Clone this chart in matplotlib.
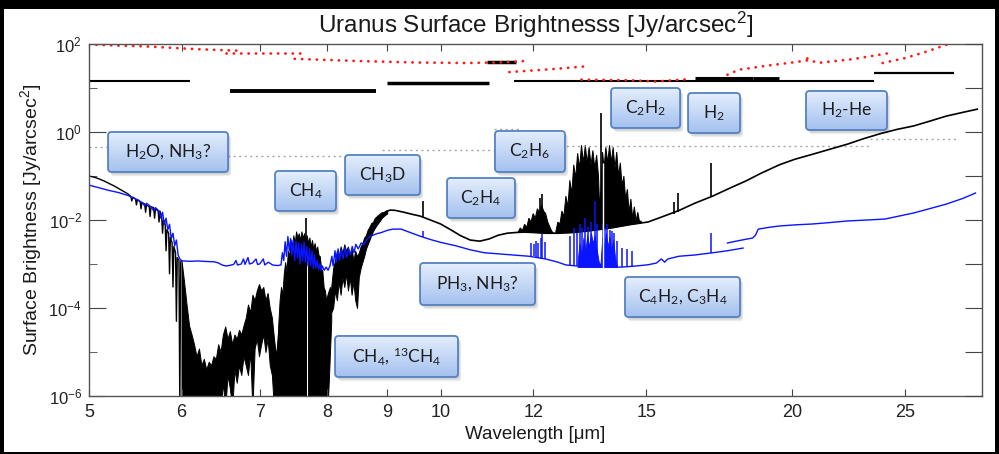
import numpy as np
import matplotlib
matplotlib.use('Agg')
import matplotlib.pyplot as plt
from matplotlib.patches import FancyBboxPatch, Rectangle
from matplotlib.colors import LinearSegmentedColormap
from matplotlib.ticker import FixedLocator, NullLocator, NullFormatter

plt.rcParams['font.family'] = ['Liberation Sans', 'DejaVu Sans']
plt.rcParams['mathtext.default'] = 'regular'

# ---------------- data (wavelength in um, brightness in Jy/arcsec^2) ----------------
# black spectrum, 5-6 um (continuum falling into the 6 um absorption)
bk1_lam = [5.00, 5.05, 5.10, 5.15, 5.20, 5.25, 5.30, 5.35, 5.40, 5.43, 5.44, 5.45, 5.48, 5.49,
           5.50, 5.53, 5.54, 5.55, 5.58, 5.59, 5.60, 5.63, 5.64, 5.65, 5.68, 5.69, 5.70, 5.73,
           5.74, 5.75, 5.77, 5.78, 5.79, 5.81, 5.82, 5.83, 5.85, 5.86, 5.87, 5.89, 5.90, 5.91,
           5.93, 5.94, 5.95, 5.97, 5.98, 5.99, 6.00]
bk1_val = [0.100, 0.094, 0.086, 0.077, 0.068, 0.060, 0.052, 0.045, 0.039, 0.034, 0.027, 0.033,
           0.030, 0.022, 0.029, 0.026, 0.018, 0.025, 0.023, 0.015, 0.022, 0.020, 0.012, 0.020,
           0.019, 0.011, 0.018, 0.016, 0.009, 0.016, 0.012, 0.005, 0.010, 0.008, 0.002, 0.006,
           0.005, 0.0006, 0.004, 0.003, 0.0003, 0.0025, 0.0018, 5e-5, 0.0014, 0.0012, 5e-7,
           0.0011, 0.0012]

# black, 6-7.25 um (dense absorption, upper / lower envelope)
n2_lam = [6.00, 6.03, 6.06, 6.09, 6.12, 6.15, 6.18, 6.21, 6.24, 6.27, 6.30, 6.33, 6.36, 6.39,
          6.42, 6.45, 6.48, 6.51, 6.54, 6.57, 6.60, 6.63, 6.66, 6.69, 6.72, 6.75, 6.78, 6.81,
          6.84, 6.87, 6.90, 6.93, 6.96, 6.99, 7.02, 7.05, 7.08, 7.11, 7.14, 7.17, 7.20, 7.23, 7.26]
n2_hi = [1.2e-3, 4e-4, 1.2e-4, 4e-5, 2.5e-5, 1.5e-5, 8e-6, 1.2e-5, 5e-6, 7e-6, 4e-6, 6e-6, 5e-6,
         8e-6, 7e-6, 1.5e-5, 1e-5, 2.5e-5, 3.8e-5, 2e-5, 3e-5, 1.5e-5, 2.5e-5, 2e-5, 3.2e-5,
         2.5e-5, 4e-5, 6e-5, 1.2e-4, 8e-5, 2e-4, 1.5e-4, 2.5e-4, 3.5e-4, 2.5e-4, 3e-4, 1.5e-4,
         2.2e-4, 1e-4, 6e-5, 2e-5, 8e-6, 3e-5]
n2_lo = [5e-7, 5e-7, 5e-7, 5e-7, 5e-7, 5e-7, 5e-7, 5e-7, 5e-7, 5e-7, 5e-7, 5e-7, 5e-7, 5e-7,
         5e-7, 5e-7, 5e-7, 2e-6, 5e-7, 3e-6, 1.5e-6, 5e-7, 4e-6, 2e-6, 5e-6, 3e-6, 8e-6, 5e-6,
         3e-6, 1e-5, 5e-7, 1.2e-5, 2e-5, 8e-6, 1.5e-5, 2.5e-5, 1e-5, 2e-5, 5e-6, 3e-6, 5e-7,
         5e-7, 5e-7]

# black, CH4 band 7.24-8.06 um
n3_lam = [7.24, 7.26, 7.28, 7.30, 7.32, 7.34, 7.36, 7.38, 7.40, 7.42, 7.44, 7.46, 7.48, 7.50,
          7.52, 7.54, 7.56, 7.58, 7.60, 7.62, 7.64, 7.66, 7.68, 7.70, 7.72, 7.74, 7.76, 7.78,
          7.80, 7.82, 7.84, 7.86, 7.88, 7.90, 7.92, 7.94, 7.96, 7.98, 8.00, 8.02, 8.04, 8.06]
n3_hi = [5e-6, 4e-5, 1.5e-4, 3e-4, 2e-4, 6e-4, 1.1e-3, 7e-4, 2e-3, 1.5e-3, 3.5e-3, 2.5e-3,
         4.5e-3, 3e-3, 5.5e-3, 4e-3, 5e-3, 3.5e-3, 5.5e-3, 4e-3, 5e-3, 3.5e-3, 4.5e-3, 3e-3,
         4e-3, 2.5e-3, 3.5e-3, 2.2e-3, 3e-3, 2e-3, 2.5e-3, 1.6e-3, 1.5e-3, 8e-4, 7e-4, 3e-4,
         2.5e-4, 1.5e-4, 2e-4, 2.5e-4, 3e-4, 2.5e-4]
n3_lo = [5e-7, 5e-7, 5e-7, 5e-7, 5e-7, 5e-7, 5e-7, 5e-7, 5e-7, 5e-7, 5e-7, 5e-7, 5e-7, 5e-7,
         5e-7, 5e-7, 5e-7, 5e-7, 5e-7, 5e-7, 5e-7, 5e-7, 5e-7, 5e-7, 5e-7, 5e-7, 5e-7, 5e-7,
         5e-7, 5e-7, 5e-7, 5e-7, 5e-7, 5e-7, 5e-7, 5e-7, 5e-7, 5e-7, 5e-7, 2e-6, 1e-5, 5e-5]

# black, 8.06-9.0 um
n4_lam = [8.06, 8.09, 8.12, 8.15, 8.18, 8.21, 8.24, 8.27, 8.30, 8.33, 8.36, 8.39, 8.42, 8.45,
          8.48, 8.51, 8.54, 8.57, 8.60, 8.63, 8.66, 8.69, 8.72, 8.75, 8.78, 8.81, 8.84, 8.87,
          8.90, 8.93, 8.96, 9.00]
n4_hi = [3e-4, 8e-4, 1.2e-3, 2e-3, 1.5e-3, 2.5e-3, 1.8e-3, 2.8e-3, 2e-3, 2.5e-3, 1.5e-3, 2.2e-3,
         1.2e-3, 2e-3, 1.5e-3, 1.8e-3, 2.5e-3, 3e-3, 4e-3, 4.5e-3, 6e-3, 7e-3, 8.5e-3, 9e-3,
         0.011, 0.012, 0.013, 0.014, 0.015, 0.015, 0.016, 0.0165]
n4_lo = [8e-5, 1e-4, 2.5e-4, 1.5e-4, 4e-4, 2e-4, 5e-4, 3e-4, 6e-4, 2.5e-4, 5e-4, 2e-4, 4e-4,
         1.5e-4, 1e-4, 5e-4, 8e-4, 1.1e-3, 1.5e-3, 2.2e-3, 2.8e-3, 3.5e-3, 4.5e-3, 5.5e-3,
         6.5e-3, 7.5e-3, 8.5e-3, 9.5e-3, 0.011, 0.012, 0.013, 0.014]

# black continuum 9-29 um
bk2_lam = [9.00, 9.06, 9.15, 9.30, 9.45, 9.60, 9.80, 10.0, 10.2, 10.4, 10.6, 10.8, 11.0, 11.2,
           11.4, 11.6, 11.8, 12.0, 12.3, 12.6, 13.0, 13.5, 14.0, 14.5, 15.05, 15.5, 16.0, 16.5,
           17.1, 17.6, 18.25, 18.8, 19.5, 20.1, 20.8, 21.5, 22.3, 23.0, 23.8, 24.6, 25.4, 26.2,
           27.1, 28.0, 28.8]
bk2_val = [0.0160, 0.0168, 0.0165, 0.0150, 0.0135, 0.0123, 0.0100, 0.0081, 0.0060, 0.0044,
           0.0035, 0.0033, 0.0037, 0.0045, 0.0050, 0.0052, 0.0053, 0.0052, 0.0050, 0.0050,
           0.0052, 0.0058, 0.0066, 0.0078, 0.0090, 0.0120, 0.0165, 0.024, 0.035, 0.050, 0.077,
           0.115, 0.180, 0.24, 0.31, 0.40, 0.53, 0.70, 0.92, 1.15, 1.37, 1.75, 2.3, 2.8, 3.3]

# C2H6 emission band
c2h6_lam = [11.65, 11.70, 11.75, 11.80, 11.85, 11.90, 11.95, 12.00, 12.05, 12.10, 12.15, 12.20,
            12.25, 12.30, 12.35, 12.40, 12.45, 12.50]
c2h6_hi = [0.0053, 0.0066, 0.0058, 0.0080, 0.0068, 0.0110, 0.0090, 0.0140, 0.0110, 0.0180,
           0.0150, 0.0220, 0.0160, 0.0140, 0.0090, 0.0070, 0.0055, 0.0050]
c2h6_base_lam = [11.65, 12.0, 12.5]
c2h6_base_val = [0.0052, 0.0052, 0.0050]

# C2H2 emission band
c2h2_lam = [12.55, 12.60, 12.65, 12.70, 12.75, 12.80, 12.85, 12.90, 12.95, 13.00, 13.05, 13.10,
            13.15, 13.20, 13.25, 13.30, 13.35, 13.40, 13.45, 13.50, 13.55, 13.60, 13.65, 13.68,
            13.72, 13.76, 13.80, 13.85, 13.90, 13.95, 14.00, 14.05, 14.10, 14.15, 14.20, 14.25,
            14.30, 14.35, 14.40, 14.45, 14.50, 14.55, 14.60, 14.65, 14.70, 14.75, 14.80, 14.85]
c2h2_hi = [0.0055, 0.009, 0.008, 0.016, 0.012, 0.035, 0.020, 0.080, 0.040, 0.18, 0.09, 0.33,
           0.15, 0.50, 0.20, 0.50, 0.20, 0.45, 0.18, 0.38, 0.15, 0.30, 0.10, 0.02,
           0.05, 0.35, 0.15, 0.45, 0.20, 0.50, 0.20, 0.45, 0.15, 0.35, 0.10, 0.20,
           0.06, 0.10, 0.03, 0.05, 0.015, 0.03, 0.011, 0.02, 0.0095, 0.015, 0.0092, 0.0095]
c2h2_base_lam = [12.55, 13.0, 13.5, 14.0, 14.5, 14.85]
c2h2_base_val = [0.0050, 0.0052, 0.0058, 0.0066, 0.0078, 0.0086]

# single black emission lines
bspk_lam = [7.665, 9.65, 12.16, 12.22, 13.72, 15.85, 15.95, 17.05]
bspk_lo = [1e-6, 0.0118, 0.006, 0.006, 0.006, 0.014, 0.015, 0.036]
bspk_hi = [0.011, 0.027, 0.031, 0.039, 2.7, 0.025, 0.041, 0.20]

# blue spectrum
bl_a_lam = [5.00, 5.10, 5.20, 5.30, 5.40, 5.50, 5.55, 5.58, 5.60, 5.65, 5.68, 5.70, 5.74, 5.76,
            5.78, 5.80, 5.82, 5.84, 5.86, 5.88, 5.90, 5.92, 5.94, 5.96, 5.98, 6.00, 6.10, 6.20,
            6.30, 6.40, 6.45, 6.50, 6.55, 6.60, 6.65, 6.68, 6.70, 6.75, 6.78, 6.80, 6.84, 6.86,
            6.90, 6.95, 6.97, 7.00, 7.05, 7.07, 7.12, 7.18, 7.25, 7.30]
bl_a_val = [0.062, 0.054, 0.047, 0.042, 0.036, 0.029, 0.025, 0.021, 0.024, 0.020, 0.016, 0.019,
            0.016, 0.011, 0.015, 0.008, 0.011, 0.006, 0.008, 0.0038, 0.005, 0.0026, 0.0035,
            0.0016, 0.0013, 0.00118, 0.00115, 0.00117, 0.00114, 0.00112, 0.00106, 0.00095,
            0.00090, 0.00093, 0.00098, 0.0012, 0.00095, 0.00100, 0.0013, 0.00098, 0.0014,
            0.00100, 0.00105, 0.0013, 0.00098, 0.00100, 0.0013, 0.00095, 0.00110, 0.00095,
            0.00092, 0.00095]
bl_b_lam = [7.32, 7.34, 7.36, 7.38, 7.40, 7.42, 7.44, 7.46, 7.48, 7.50, 7.52, 7.54, 7.56, 7.58,
            7.60, 7.62, 7.64, 7.66, 7.68, 7.70, 7.72, 7.74, 7.76, 7.78, 7.80, 7.82, 7.84, 7.86,
            7.88, 7.90, 7.92, 7.95, 7.98, 8.01, 8.04, 8.07, 8.09, 8.12, 8.14, 8.17, 8.19, 8.22,
            8.25, 8.28, 8.31, 8.34, 8.37, 8.40, 8.43, 8.46, 8.50, 8.55, 8.60, 8.65, 8.70, 8.80,
            8.90]
bl_b_val = [0.0018, 0.0012, 0.0032, 0.0015, 0.0042, 0.0020, 0.0038, 0.0016, 0.0035, 0.0012,
            0.0033, 0.0014, 0.0030, 0.0010, 0.0028, 0.0012, 0.0032, 0.0011, 0.0025, 0.0009,
            0.0022, 0.0009, 0.0020, 0.0008, 0.0016, 0.0008, 0.0012, 0.00075, 0.0010, 0.00072,
            0.0009, 0.00072, 0.00085, 0.00072, 0.0009, 0.0015, 0.0009, 0.0020, 0.0011, 0.0022,
            0.0012, 0.0021, 0.0013, 0.0024, 0.0014, 0.0022, 0.0016, 0.0025, 0.0018, 0.0028,
            0.0022, 0.0030, 0.0028, 0.0036, 0.0042, 0.0048, 0.0052]
bl_c_lam = [9.00, 9.10, 9.25, 9.40, 9.60, 9.80, 10.0, 10.3, 10.6, 10.9, 11.2, 11.5, 11.9, 12.3,
            12.6, 12.8, 13.2, 13.8, 14.3, 14.7, 15.05, 15.3, 15.45, 15.55, 15.65, 16.0, 16.5,
            17.1, 17.6, 18.15]
bl_c_val = [0.0058, 0.0062, 0.0062, 0.0053, 0.0043, 0.0036, 0.0031, 0.0026, 0.0021, 0.0018,
            0.0017, 0.0016, 0.0015, 0.0013, 0.0011, 0.00095, 0.00088, 0.00085, 0.00085, 0.0009,
            0.00096, 0.00105, 0.0013, 0.0011, 0.0013, 0.0015, 0.0016, 0.0018, 0.0020, 0.0023]
bl_d_lam = [17.6, 18.0, 18.5, 18.6, 18.7, 19.1, 19.5, 20.2, 20.8, 21.5, 22.3, 23.2, 24.0, 24.4,
            25.4, 26.2, 27.1, 28.0, 28.7]
bl_d_val = [0.0030, 0.0034, 0.0039, 0.0045, 0.0062, 0.0068, 0.0073, 0.0078, 0.0081, 0.0087,
            0.0095, 0.0100, 0.0105, 0.0115, 0.0144, 0.018, 0.023, 0.031, 0.041]

# blue dense band near 13.7 um and single blue lines
bb_lam = [13.10, 13.15, 13.20, 13.25, 13.30, 13.35, 13.40, 13.45, 13.50, 13.55, 13.60, 13.65,
          13.70, 13.75, 13.80, 13.85, 13.90, 13.95, 14.00, 14.05, 14.10, 14.15]
bb_hi = [0.0012, 0.0030, 0.0016, 0.0040, 0.0020, 0.0045, 0.0025, 0.0050, 0.0030, 0.0045,
         0.0022, 0.0012, 0.0009, 0.0040, 0.0025, 0.0050, 0.0025, 0.0042, 0.0020, 0.0035,
         0.0015, 0.0009]
bb_floor = 0.00085
bsp_lam = [9.65, 11.96, 12.02, 12.07, 12.12, 12.18, 12.22, 12.28, 12.90, 13.00, 13.08, 13.15,
           13.22, 13.30, 13.38, 13.45, 13.55, 13.62, 13.76, 13.82, 13.88, 13.95, 14.02, 14.08,
           14.16, 14.29, 14.43, 14.57, 17.05]
bsp_hi = [0.0056, 0.0030, 0.0028, 0.0033, 0.0030, 0.0038, 0.0047, 0.0032, 0.0043, 0.0066,
          0.0050, 0.0080, 0.0065, 0.0110, 0.0070, 0.0090, 0.0270, 0.0080, 0.0080, 0.0065,
          0.0081, 0.0060, 0.0056, 0.0050, 0.0034, 0.0023, 0.0022, 0.0020, 0.0051]
bsp_lo = [0.0040, 0.0015, 0.0015, 0.0014, 0.0014, 0.0013, 0.0013, 0.0013, 0.00095, 0.0009,
          0.0009, 0.0009, 0.0009, 0.00088, 0.00088, 0.00088, 0.00088, 0.00085, 0.00085, 0.00085,
          0.00085, 0.00085, 0.00085, 0.00085, 0.00085, 0.00085, 0.00087, 0.0009, 0.0018]

# red dotted saturation limits (one list per detector segment)
red_lam = [[5.0, 5.6, 6.2, 6.75], [6.55, 7.6], [7.5, 8.5, 9.5, 10.5, 11.2, 11.8],
           [11.45, 12.5, 13.3], [13.2, 14.5, 15.3, 15.8, 16.4], [17.6, 18.0, 19.0, 20.0, 20.8],
           [20.6, 21.0, 22.5, 24.2], [23.9, 25.0, 26.0, 27.1]]
red_val = [[97, 88, 76, 70], [62, 62], [46, 41, 38, 37, 38, 41],
           [23, 27, 31], [15.5, 15, 14, 15, 16], [20, 26, 32, 38, 44],
           [47, 37, 45, 62], [37, 48, 66, 96]]

# black horizontal levels
hs_lo = [5.0, 6.6, 9.0, 10.95, 11.55, 16.5, 18.5, 23.5]
hs_hi = [6.1, 8.8, 11.0, 11.6, 23.5, 18.5, 19.5, 27.5]
hs_val = [14.2, 8.7, 12.8, 38.4, 14.2, 16.6, 15.8, 21.6]
hs_lw = [1.5, 2.8, 2.5, 2.5, 1.5, 2.2, 3.5, 1.6]

# grey dotted levels
g_lo = [5.0, 6.5, 8.9, 11.1, 12.0, 23.3]
g_hi = [6.5, 8.7, 11.25, 11.7, 23.3, 27.8]
g_val = [0.46, 0.29, 0.39, 1.2, 0.48, 0.68]

xticks = [5, 6, 7, 8, 9, 10, 12, 15, 20, 25]
yticks = [1e-6, 1e-4, 1e-2, 1e0, 1e2]
ytick_labels = ['$10^{-6}$', '$10^{-4}$', '$10^{-2}$', '$10^{0}$', '$10^{2}$']

box_text = ['H$_2$O, NH$_3$?', 'CH$_4$', 'CH$_3$D', 'C$_2$H$_4$', 'C$_2$H$_6$', 'C$_2$H$_2$',
            'H$_2$', 'H$_2$-He', 'PH$_3$, NH$_3$?', 'C$_4$H$_2$, C$_3$H$_4$',
            'CH$_4$, $^{13}$CH$_4$']
# box placement in axes fraction: (x0, y0, width, height)
box_pos = [(0.0213, 0.6364, 0.1344, 0.1136), (0.2083, 0.5256, 0.0683, 0.1136),
           (0.2867, 0.5710, 0.0840, 0.1136), (0.4009, 0.5057, 0.0761, 0.1136),
           (0.4546, 0.6364, 0.0784, 0.1165), (0.5846, 0.7614, 0.0773, 0.1136),
           (0.6708, 0.7472, 0.0582, 0.1136), (0.8029, 0.7557, 0.0907, 0.1108),
           (0.3707, 0.2585, 0.1288, 0.1193), (0.6002, 0.2244, 0.1288, 0.1136),
           (0.2755, 0.0540, 0.1377, 0.1165)]

# ---------------- figure ----------------
fig = plt.figure(figsize=(9.99, 4.54), dpi=100, facecolor='black')
fig.add_artist(Rectangle((0.004, 0.0044), 0.992, 0.9758, transform=fig.transFigure,
                         facecolor='white', edgecolor='none', zorder=-10))
ax = fig.add_axes([0.0891, 0.1278, 0.8939, 0.7753])
ax.set_xscale('log')
ax.set_yscale('log')

for lo, hi, v, w in zip(hs_lo, hs_hi, hs_val, hs_lw):
    ax.plot([lo, hi], [v, v], color='black', lw=w, solid_capstyle='butt')
for lam, val in zip(red_lam, red_val):
    ax.plot(lam, val, color='#ff1a1a', lw=2.0, linestyle=(0, (0.05, 2.6)),
            dash_capstyle='round')
for lo, hi, v in zip(g_lo, g_hi, g_val):
    ax.plot([lo, hi], [v, v], color='#a8a8a8', lw=1.0, linestyle=(0, (1.5, 2.5)))

# black spectrum
ax.plot(bk1_lam, bk1_val, color='black', lw=1.0)
for lam, lo, hi in [(n2_lam, n2_lo, n2_hi), (n3_lam, n3_lo, n3_hi), (n4_lam, n4_lo, n4_hi)]:
    ax.fill_between(lam, lo, hi, facecolor='black', edgecolor='black', lw=0.7)
ax.plot(bk2_lam, bk2_val, color='black', lw=1.2)
ax.fill(np.r_[c2h6_lam, c2h6_base_lam[::-1]], np.r_[c2h6_hi, c2h6_base_val[::-1]],
        facecolor='black', edgecolor='black', lw=0.7)
ax.fill(np.r_[c2h2_lam, c2h2_base_lam[::-1]], np.r_[c2h2_hi, c2h2_base_val[::-1]],
        facecolor='black', edgecolor='black', lw=0.7)
ax.vlines([7.685], 5e-7, 1.6e-3, color='white', lw=0.8)
ax.vlines(bspk_lam, bspk_lo, bspk_hi, color='black', lw=1.2)

# blue spectrum
ax.plot(np.r_[bl_a_lam, bl_b_lam, bl_c_lam], np.r_[bl_a_val, bl_b_val, bl_c_val],
        color='#0a14ff', lw=1.0)
ax.plot(bl_d_lam, bl_d_val, color='#0a14ff', lw=1.0)
ax.fill_between(bb_lam, bb_floor, bb_hi, facecolor='#0a14ff', edgecolor='#0a14ff', lw=0.6)
ax.vlines(bsp_lam, bsp_lo, bsp_hi, color='#0a14ff', lw=1.1)
ax.vlines([13.76], 8e-4, 0.2, color='white', lw=1.0)

ax.set_xlim(5, 29.07)
ax.set_ylim(1e-6, 1e2)

ax.xaxis.set_major_locator(FixedLocator(xticks))
ax.set_xticklabels([str(t) for t in xticks])
ax.xaxis.set_minor_locator(NullLocator())
ax.yaxis.set_major_locator(FixedLocator(yticks))
ax.set_yticklabels(ytick_labels)
ax.yaxis.set_minor_locator(FixedLocator([1e-5, 1e-3, 1e-1, 1e1]))
ax.yaxis.set_minor_formatter(NullFormatter())
ax.tick_params(axis='x', which='major', direction='in', length=5, top=True, labelsize=13,
               pad=6, color='#444444', labelcolor='#222222')
ax.tick_params(axis='y', which='major', direction='in', length=12.5, labelsize=12,
               pad=5, color='#444444', labelcolor='#222222')
ax.tick_params(axis='y', which='minor', direction='in', length=6, color='#444444')
for s in ax.spines.values():
    s.set_color('#555555')
    s.set_linewidth(1.0)

ax2 = ax.twinx()
ax2.set_yscale('log')
ax2.set_ylim(1e-6, 1e2)
ax2.yaxis.set_major_locator(FixedLocator([10.0 ** k for k in range(-6, 3)]))
ax2.yaxis.set_minor_locator(NullLocator())
ax2.tick_params(axis='y', direction='in', length=12.5, labelright=False, color='#444444')
for s in ax2.spines.values():
    s.set_visible(False)

ax.set_title('Uranus Surface Brightnesss [Jy/arcsec$^2$]', fontsize=17.5, pad=8,
             color='#1a1a1a')
ax.set_xlabel('Wavelength [\u03bcm]', fontsize=13.5, color='#1a1a1a')
ax.set_ylabel('Surface Brightness [Jy/arcsec$^2$]', fontsize=14, color='#1a1a1a')
ax.xaxis.set_label_coords(0.5, -0.085)
ax.yaxis.set_label_coords(-0.050, 0.5)

# label boxes
ov = fig.add_axes(ax.get_position().bounds, zorder=5)
ov.set_axis_off()
grad = np.linspace(0, 1, 64).reshape(-1, 1)
cmap = LinearSegmentedColormap.from_list('box', ['#a4c1ef', '#e4eefc'])
style = 'round,pad=0,rounding_size=0.004'
for text, (x0, y0, w, h) in zip(box_text, box_pos):
    for k in range(3):
        ov.add_patch(FancyBboxPatch((x0 + 0.0012 * (k + 1), y0 - 0.004 * (k + 1)), w, h,
                                    boxstyle=style, mutation_aspect=2.54, fc='black',
                                    ec='none', alpha=0.08, zorder=1))
    body = FancyBboxPatch((x0, y0), w, h, boxstyle=style, mutation_aspect=2.54,
                          fc='white', ec='none', zorder=2)
    ov.add_patch(body)
    im = ov.imshow(grad, extent=(x0, x0 + w, y0, y0 + h), origin='lower', cmap=cmap,
                   aspect='auto', interpolation='bilinear', zorder=3)
    im.set_clip_path(body)
    ov.add_patch(FancyBboxPatch((x0, y0), w, h, boxstyle=style, mutation_aspect=2.54,
                                fc='none', ec='#5582c2', lw=1.3, zorder=4))
    ov.text(x0 + w / 2, y0 + h / 2, text, ha='center', va='center', fontsize=12.5,
            family=['Lato', 'DejaVu Sans'], color='#1c1c1c', zorder=5)
ov.set_xlim(0, 1)
ov.set_ylim(0, 1)

fig.savefig('out.png', dpi=100, facecolor=fig.get_facecolor())
